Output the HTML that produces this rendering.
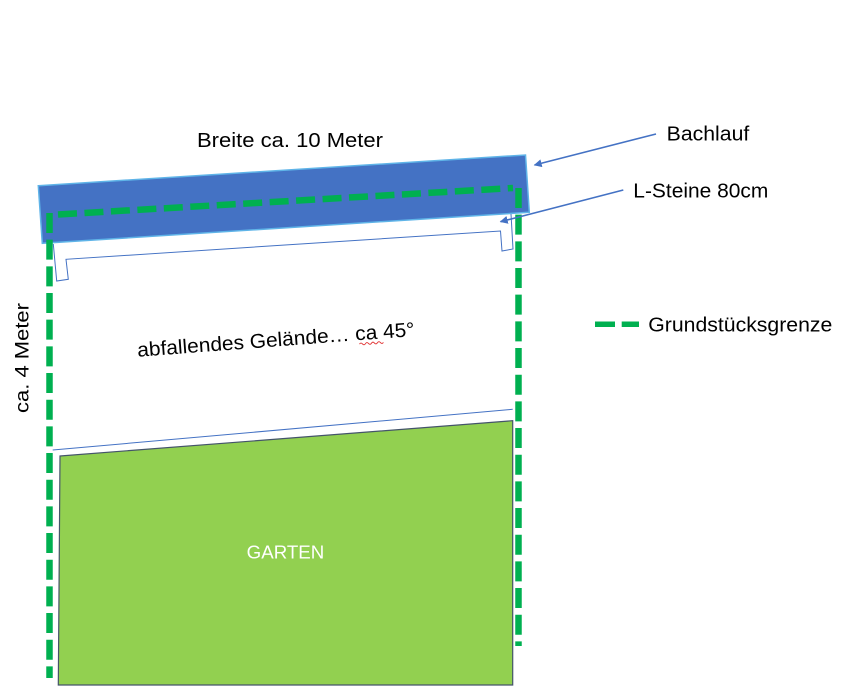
<!DOCTYPE html>
<html>
<head>
<meta charset="utf-8">
<style>
  html, body { margin: 0; padding: 0; background: #ffffff; }
  body { width: 863px; height: 692px; overflow: hidden; }
  svg { display: block; }
  text { font-family: "Liberation Sans", "DejaVu Sans", sans-serif; }
</style>
</head>
<body>
<svg width="863" height="692" viewBox="0 0 863 692" xmlns="http://www.w3.org/2000/svg">
  <defs>
    <marker id="ah" viewBox="0 0 10 10" refX="9" refY="5" markerWidth="5" markerHeight="5" orient="auto" markerUnits="strokeWidth">
      <path d="M0,0 L10,5 L0,10 z" fill="#4472C4"/>
    </marker>
  </defs>

  <!-- Bachlauf band -->
  <polygon points="38.3,185.7 525.5,155 529.3,212.3 42.3,243.3" fill="#4472C4" stroke="#5fb4e8" stroke-width="1.5"/>

  <!-- L-Steine outline -->
  <polyline points="53.3,244 56.7,281 68.3,279.3 66,259.3 500.5,231 502,251 513,249 511,214"
            fill="none" stroke="#4472C4" stroke-width="1"/>

  <!-- slope line -->
  <line x1="52.7" y1="450" x2="512.7" y2="409.3" stroke="#4472C4" stroke-width="1"/>

  <!-- Garden -->
  <polygon points="60,456 512.7,420.7 512.7,685 58.3,685" fill="#92D050" stroke="#44546A" stroke-width="1.2"/>

  <!-- Property boundary (green dashed) -->
  <line x1="58" y1="214.5" x2="513" y2="188" stroke="#00B050" stroke-width="6.5" stroke-dasharray="19 7.5"/>
  <line x1="49.5" y1="213" x2="49.5" y2="678" stroke="#00B050" stroke-width="6.5" stroke-dasharray="20 6.67"/>
  <line x1="518.5" y1="188" x2="518.5" y2="646" stroke="#00B050" stroke-width="6.5" stroke-dasharray="20 6.67"/>

  <!-- Arrows -->
  <line x1="656" y1="134" x2="534.5" y2="165" stroke="#4472C4" stroke-width="1.6" marker-end="url(#ah)"/>
  <line x1="623.3" y1="190" x2="500.5" y2="221.7" stroke="#4472C4" stroke-width="1.6" marker-end="url(#ah)"/>

  <!-- Labels -->
  <text x="197" y="147" font-size="20" fill="#000" textLength="186" lengthAdjust="spacingAndGlyphs">Breite ca. 10 Meter</text>
  <text x="666.7" y="140.7" font-size="20" fill="#000" textLength="82.6" lengthAdjust="spacingAndGlyphs">Bachlauf</text>
  <text x="633.3" y="197.7" font-size="20" fill="#000" textLength="135" lengthAdjust="spacingAndGlyphs">L-Steine 80cm</text>

  <!-- Legend -->
  <line x1="595" y1="324.2" x2="615" y2="324.2" stroke="#00B050" stroke-width="5.5"/>
  <line x1="621.7" y1="324.2" x2="639" y2="324.2" stroke="#00B050" stroke-width="5.5"/>
  <text x="648.3" y="331.7" font-size="20" fill="#000" textLength="184" lengthAdjust="spacingAndGlyphs">Grundstücksgrenze</text>

  <!-- Slope label (rotated) -->
  <g transform="translate(137.8,356.8) rotate(-4.3)">
    <text x="0" y="0" font-size="20" fill="#000" textLength="278" lengthAdjust="spacingAndGlyphs">abfallendes Gelände… ca 45°</text>
    <path d="M222,4 q1.5,-2 3,0 t3,0 t3,0 t3,0 t3,0 t3,0 t3,0 t3,0" fill="none" stroke="#e03030" stroke-width="0.9"/>
  </g>

  <!-- Vertical label -->
  <g transform="translate(28.5,413) rotate(-90)">
    <text x="0" y="0" font-size="19" fill="#000" textLength="110" lengthAdjust="spacingAndGlyphs">ca. 4 Meter</text>
  </g>

  <!-- Garden label -->
  <text x="246.7" y="558.3" font-size="18.5" fill="#ffffff" textLength="77.6" lengthAdjust="spacingAndGlyphs">GARTEN</text>
</svg>
</body>
</html>
